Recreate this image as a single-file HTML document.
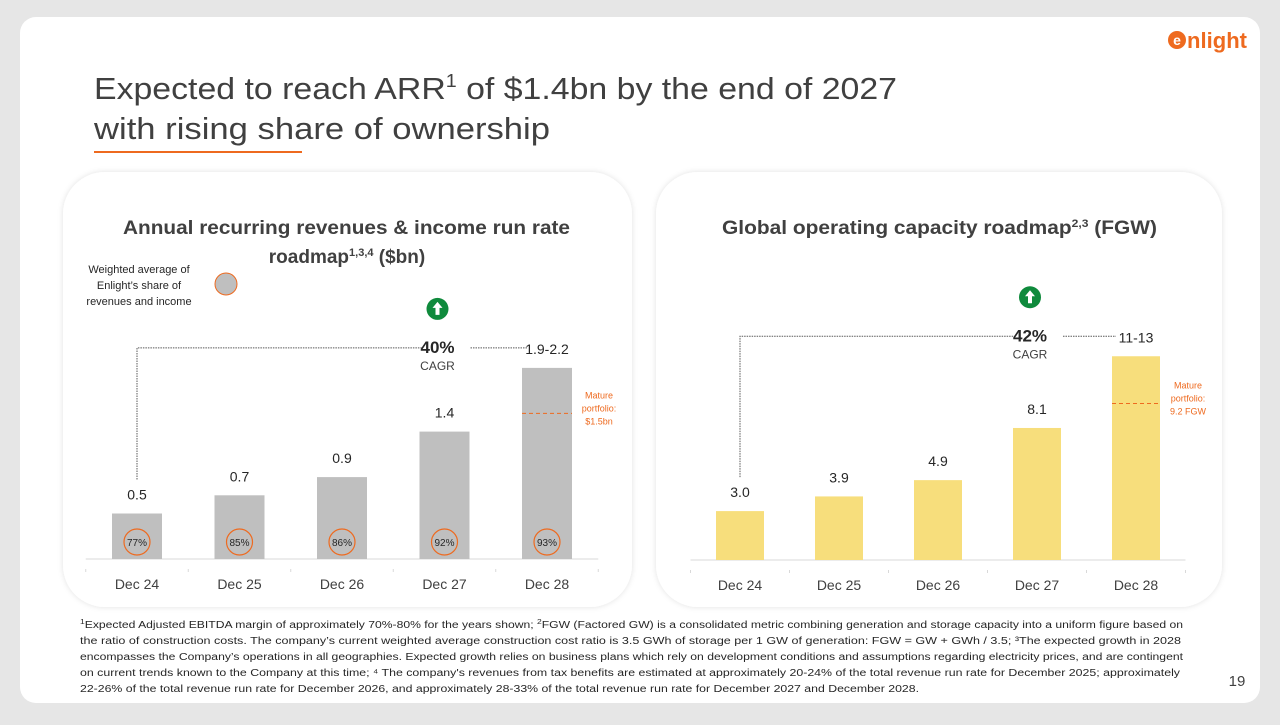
<!DOCTYPE html>
<html><head><meta charset="utf-8"><style>
body{margin:0;width:1280px;height:720px;background:#e6e6e6;font-family:"Liberation Sans",sans-serif;overflow:hidden}
</style></head><body>
<svg width="1280" height="720" xmlns="http://www.w3.org/2000/svg" font-family="Liberation Sans, sans-serif">
<defs><filter id="sh" x="-5%" y="-5%" width="110%" height="110%"><feDropShadow dx="0" dy="0" stdDeviation="3" flood-color="#000" flood-opacity="0.12"/></filter></defs>
<rect x="20" y="17" width="1240" height="686" rx="16" fill="#fff"/>
<g>
<circle cx="1177" cy="40" r="9" fill="#ee6a1f"/>
<text x="1177" y="45" font-size="14" font-weight="bold" fill="#fff" text-anchor="middle">e</text>
<text x="1187" y="48" font-size="22" font-weight="bold" fill="#ee6a1f" textLength="60">nlight</text></g>
<text x="94" y="99" font-size="31" fill="#404040" textLength="803" lengthAdjust="spacingAndGlyphs">Expected to reach ARR<tspan font-size="18" dy="-12">1</tspan><tspan dy="12"> of $1.4bn by the end of 2027</tspan></text>
<text x="94" y="139" font-size="31" fill="#404040" textLength="456" lengthAdjust="spacingAndGlyphs">with rising share of ownership</text>
<rect x="94" y="151" width="208" height="2" fill="#ee6a1f"/>
<rect x="63" y="172" width="569" height="435" rx="42" fill="#fff" filter="url(#sh)"/>
<rect x="656" y="172" width="566" height="435" rx="42" fill="#fff" filter="url(#sh)"/>
<text x="123" y="234" font-size="19" font-weight="bold" fill="#404040" textLength="447" lengthAdjust="spacingAndGlyphs">Annual recurring revenues &amp; income run rate</text>
<text x="347" y="263" font-size="19" font-weight="bold" fill="#404040" text-anchor="middle">roadmap<tspan font-size="11" dy="-7">1,3,4</tspan><tspan dy="7"> ($bn)</tspan></text>
<text x="722" y="234" font-size="19" font-weight="bold" fill="#404040" textLength="435" lengthAdjust="spacingAndGlyphs">Global operating capacity roadmap<tspan font-size="11" dy="-7">2,3</tspan><tspan dy="7"> (FGW)</tspan></text>
<g font-size="11" fill="#262626" text-anchor="middle">
<text x="139" y="273">Weighted average of</text><text x="139" y="289">Enlight’s share of</text><text x="139" y="305">revenues and income</text></g>
<circle cx="226" cy="284" r="11" fill="#bfbfbf" stroke="#ee6a1f" stroke-width="1"/>
<g id="left"></g><g id="right"></g>
<g font-size="10" fill="#262626">
<text x="80" y="628" textLength="1103" lengthAdjust="spacingAndGlyphs"><tspan font-size="7" dy="-4">1</tspan><tspan dy="4">Expected Adjusted EBITDA margin of approximately 70%-80% for the years shown; </tspan><tspan font-size="7" dy="-4">2</tspan><tspan dy="4">FGW (Factored GW) is a consolidated metric combining generation and storage capacity into a uniform figure based on</tspan></text>
<text x="80" y="644" textLength="1101" lengthAdjust="spacingAndGlyphs">the ratio of construction costs. The company’s current weighted average construction cost ratio is 3.5 GWh of storage per 1 GW of generation: FGW = GW + GWh / 3.5; ³The expected growth in 2028</text>
<text x="80" y="660" textLength="1103" lengthAdjust="spacingAndGlyphs">encompasses the Company’s operations in all geographies. Expected growth relies on business plans which rely on development conditions and assumptions regarding electricity prices, and are contingent</text>
<text x="80" y="676" textLength="1100" lengthAdjust="spacingAndGlyphs">on current trends known to the Company at this time; ⁴ The company's revenues from tax benefits are estimated at approximately 20-24% of the total revenue run rate for December 2025; approximately</text>
<text x="80" y="692" textLength="839" lengthAdjust="spacingAndGlyphs">22-26% of the total revenue run rate for December 2026, and approximately 28-33% of the total revenue run rate for December 2027 and December 2028.</text></g>
<text x="1237" y="686" font-size="15" fill="#404040" text-anchor="middle">19</text>
</svg>
<script>
const categories=["Dec 24","Dec 25","Dec 26","Dec 27","Dec 28"];
const arrValues=[0.5,0.7,0.9,1.4,2.1];
const arrLabels=["0.5","0.7","0.9","1.4","1.9-2.2"];
const shareLabels=["77%","85%","86%","92%","93%"];
const capValues=[3.0,3.9,4.9,8.1,12.5];
const capLabels=["3.0","3.9","4.9","8.1","11-13"];
const NS="http://www.w3.org/2000/svg";
function mk(p,t,a,txt){const e=document.createElementNS(NS,t);for(const k in a)e.setAttribute(k,a[k]);if(txt!==undefined)e.textContent=txt;p.appendChild(e);return e;}
function chart(g,x0,step,bw,base,scale,vals,labels,color,cagr,mature,matureVal,shares){
  const xs=i=>x0+i*step; const ys=v=>base-v*scale;
  mk(g,"line",{x1:x0-step/2,x2:x0+4.5*step,y1:base,y2:base,stroke:"#d9d9d9","stroke-width":1});
  for(let k=0;k<=5;k++) mk(g,"line",{x1:x0+(k-0.5)*step,x2:x0+(k-0.5)*step,y1:base+10,y2:base+13,stroke:"#d9d9d9","stroke-width":1});
  vals.forEach((v,i)=>{
    const r=mk(g,"rect",{x:xs(i)-bw/2,y:ys(v),width:bw,height:v*scale,fill:color});
    
    
    const t=mk(g,"text",{x:xs(i),y:ys(v)-14,"font-size":14,fill:"#262626","text-anchor":"middle"},labels[i]);
    
    
    const c=mk(g,"text",{x:xs(i),y:base+30,"font-size":14,fill:"#404040","text-anchor":"middle"},categories[i]);
    
    
    if(shares){
      const ci=mk(g,"circle",{cx:xs(i),cy:base-17,r:13,fill:"none",stroke:"#ee6a1f","stroke-width":1.2});
      
      
      mk(g,"text",{x:xs(i),y:base-13,"font-size":10,fill:"#262626","text-anchor":"middle"},shares[i]);
    }
  });
  const ly=ys(vals[4])-20;
  mk(g,"path",{d:`M${xs(0)} ${ys(vals[0])-34} V${ly} H${xs(3)-22} M${xs(3)+26} ${ly} H${xs(4)-20}`,fill:"none",stroke:"#595959","stroke-width":1,"stroke-dasharray":"1.5 1"});
  const ct=mk(g,"text",{x:xs(3)-7,y:ly+5,"font-size":17,"font-weight":"bold",fill:"#262626","text-anchor":"middle"},cagr);
  
  
  mk(g,"text",{x:xs(3)-7,y:ly+22,"font-size":12,fill:"#404040","text-anchor":"middle"},"CAGR");
  mk(g,"circle",{cx:xs(3)-7,cy:ly-39,r:11,fill:"#0f8a3c"});
  mk(g,"path",{d:`M${xs(3)-7} ${ly-46} l-5 6 h3 v7 h4 v-7 h3 z`,fill:"#fff"});
  const my=ys(matureVal);
  const dl=mk(g,"line",{x1:xs(4)-bw/2,x2:xs(4)+bw/2,y1:my,y2:my,stroke:"#ee6a1f","stroke-width":1,"stroke-dasharray":"4 3"});
  
  
  mature.forEach((s,k)=>mk(g,"text",{x:xs(4)+52,y:my-15+k*13,"font-size":9,fill:"#ee6a1f","text-anchor":"middle"},s));
}
chart(document.getElementById("left"),137,102.5,50,559,91,arrValues,arrLabels,"#bfbfbf","40%",["Mature","portfolio:","$1.5bn"],1.6,shareLabels);
chart(document.getElementById("right"),740,99,48,560,16.3,capValues,capLabels,"#f7de7c","42%",["Mature","portfolio:","9.2 FGW"],9.6,null);
</script>
</body></html>
